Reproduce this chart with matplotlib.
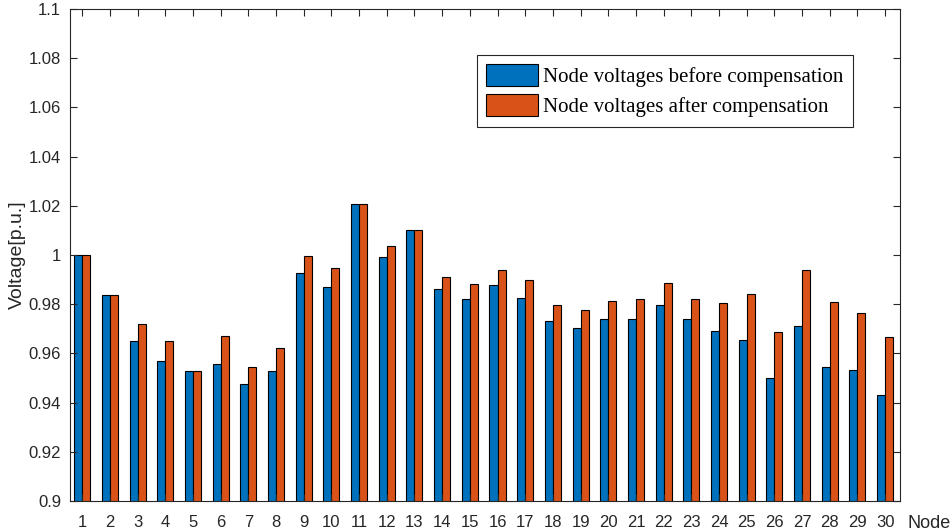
import numpy as np
import matplotlib.pyplot as plt
from matplotlib.ticker import FuncFormatter

nodes = np.arange(1, 31)
# node voltages (p.u.)
before = [1.000, 0.9838, 0.9650, 0.9568, 0.9528, 0.9556, 0.9475, 0.9528, 0.9927, 0.9871,
          1.0207, 0.9992, 1.0103, 0.9862, 0.9821, 0.9877, 0.9826, 0.9731, 0.9705, 0.9739,
          0.9740, 0.9796, 0.9740, 0.9692, 0.9656, 0.9498, 0.9710, 0.9546, 0.9533, 0.9432]
after = [1.000, 0.9838, 0.9721, 0.9652, 0.9528, 0.9671, 0.9544, 0.9621, 0.9996, 0.9948,
         1.0207, 1.0037, 1.0103, 0.9912, 0.9882, 0.9938, 0.9899, 0.9797, 0.9775, 0.9812,
         0.9821, 0.9888, 0.9821, 0.9804, 0.9840, 0.9686, 0.9938, 0.9810, 0.9765, 0.9665]
labels = ['Node voltages before compensation', 'Node voltages after compensation']

blue = '#0072BD'
orange = '#D95319'
w = 0.29

fig = plt.figure(figsize=(9.52, 5.31), dpi=100)
ax = fig.add_axes([69.5 / 952, 30 / 531, 830 / 952, 492 / 531])

ax.bar(nodes - w / 2, before, width=w, color=blue, edgecolor='black', linewidth=0.8, label=labels[0])
ax.bar(nodes + w / 2, after, width=w, color=orange, edgecolor='black', linewidth=0.8, label=labels[1])

ax.set_xlim(0.54, 30.52)
ax.set_ylim(0.9, 1.1)
ax.set_xticks(nodes)
ax.set_yticks(np.arange(0.9, 1.1001, 0.02))
ax.yaxis.set_major_formatter(FuncFormatter(lambda v, p: f'{v:.2f}'.rstrip('0').rstrip('.')))

for s in ax.spines.values():
    s.set_color('#262626')
    s.set_linewidth(0.8)
ax.tick_params(direction='in', length=5, width=0.8, top=True, right=True,
               labelsize=12, colors='#262626')
ax.tick_params(axis='x', pad=10)
ax.tick_params(axis='y', pad=6)
for t in ax.get_xticklabels() + ax.get_yticklabels():
    t.set_fontfamily('Liberation Sans')

ax.set_ylabel('Voltage[p.u.]', fontsize=14, family='Liberation Sans', color='#262626', labelpad=2)
ax.text(1.0095, -27 / 492, 'Node', transform=ax.transAxes, fontsize=13, family='Liberation Sans',
        color='#262626', ha='left', va='baseline')

leg = ax.legend(loc='upper left', bbox_to_anchor=(407 / 830, 1 - 46 / 492),
                prop={'family': 'Liberation Serif', 'size': 15}, fancybox=False,
                edgecolor='#262626', framealpha=1, handlelength=2.5, handleheight=1.25,
                handletextpad=0.25, labelspacing=0.33, borderpad=0.45, borderaxespad=0)
leg.get_frame().set_linewidth(0.8)

fig.savefig('out.png', dpi=100)
